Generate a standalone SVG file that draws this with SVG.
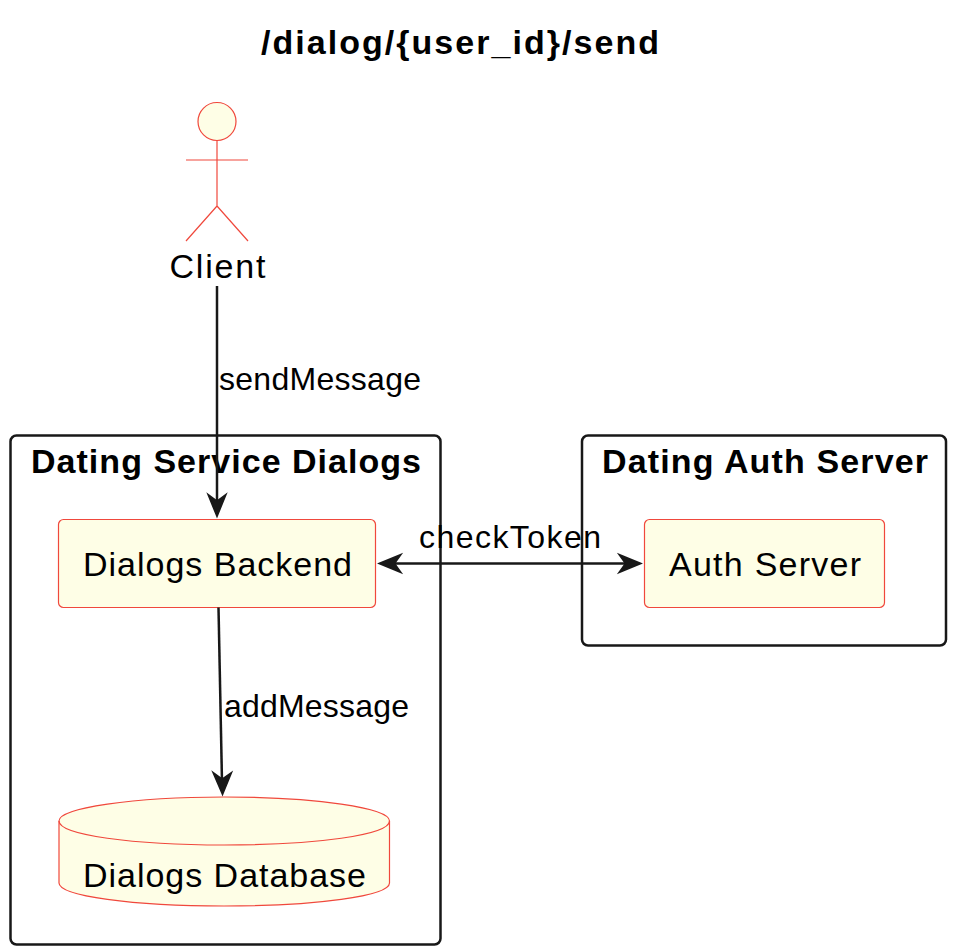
<svg xmlns="http://www.w3.org/2000/svg" width="954" height="952" viewBox="0 0 954 952">
<style>
text{font-family:"Liberation Sans",Arial,sans-serif;fill:#000}
.t{font-size:34px;font-weight:700}
.n{font-size:34px}
.l{font-size:32px}
.frame{fill:none;stroke:#181818;stroke-width:2.5}
.node{fill:#fefee6;stroke:#f0483c;stroke-width:1.2}
.conn{fill:none;stroke:#181818;stroke-width:2.5}
.head{fill:#181818;stroke:#181818;stroke-width:1.5}
</style>
<rect width="954" height="952" fill="#fff"/>
<text id="title" x="261" y="54" class="t" textLength="398" lengthAdjust="spacing">/dialog/{user_id}/send</text>
<g id="cluster-dialogs"><rect class="frame" x="10.500" y="435.500" width="430" height="509" rx="6"/><text class="t" x="31" y="473" textLength="390" lengthAdjust="spacing">Dating Service Dialogs</text></g>
<g id="cluster-auth"><rect class="frame" x="582" y="435.500" width="364" height="210" rx="6"/><text class="t" x="602" y="473" textLength="326" lengthAdjust="spacing">Dating Auth Server</text></g>
<g id="client">
<circle class="node" cx="217" cy="121.500" r="19"/>
<path class="node" style="fill:none" d="M217 141V206M186 160H248M217 206L186 241M217 206L248 241"/>
<text class="n" x="169.500" y="278" textLength="96" lengthAdjust="spacing">Client</text>
</g>
<g id="backend"><rect class="node" x="58.500" y="519.500" width="317" height="88" rx="5"/><text class="n" x="83" y="576" textLength="269" lengthAdjust="spacing">Dialogs Backend</text></g>
<g id="authserver"><rect class="node" x="644.500" y="519.500" width="240" height="88" rx="5"/><text class="n" x="669" y="576" textLength="192" lengthAdjust="spacing">Auth Server</text></g>
<g id="database">
<path class="node" d="M59 821C59 808 133 797 224 797C316 797 389.500 808 389.500 821V883C389.500 896 316 906 224 906C133 906 59 896 59 883Z"/>
<path class="node" style="fill:none" d="M59 821C59 835 133 845 224 845C316 845 389.500 835 389.500 821"/>
<text class="n" x="83" y="887" textLength="283" lengthAdjust="spacing">Dialogs Database</text>
</g>
<g id="connectors">
<path class="conn" d="M217 286V505"/>
<path class="head" d="M217 516.500L208 494.500L217 501L226 494.500Z"/>
<path class="conn" d="M218.500 607.500L222 782"/>
<path class="head" d="M222.500 794.500L213 772.500L222.200 779L231.500 772.500Z"/>
<path class="conn" d="M390 563.500H630"/>
<path class="head" d="M379 563.500L401 554.500L394.500 563.500L401 572.500Z"/>
<path class="head" d="M641 563.500L619 554.500L625.500 563.500L619 572.500Z"/>
<text class="l" x="219" y="390" textLength="202" lengthAdjust="spacing">sendMessage</text>
<text class="l" x="419" y="548" textLength="182" lengthAdjust="spacing">checkToken</text>
<text class="l" x="224" y="717" textLength="185" lengthAdjust="spacing">addMessage</text>
</g>
</svg>
